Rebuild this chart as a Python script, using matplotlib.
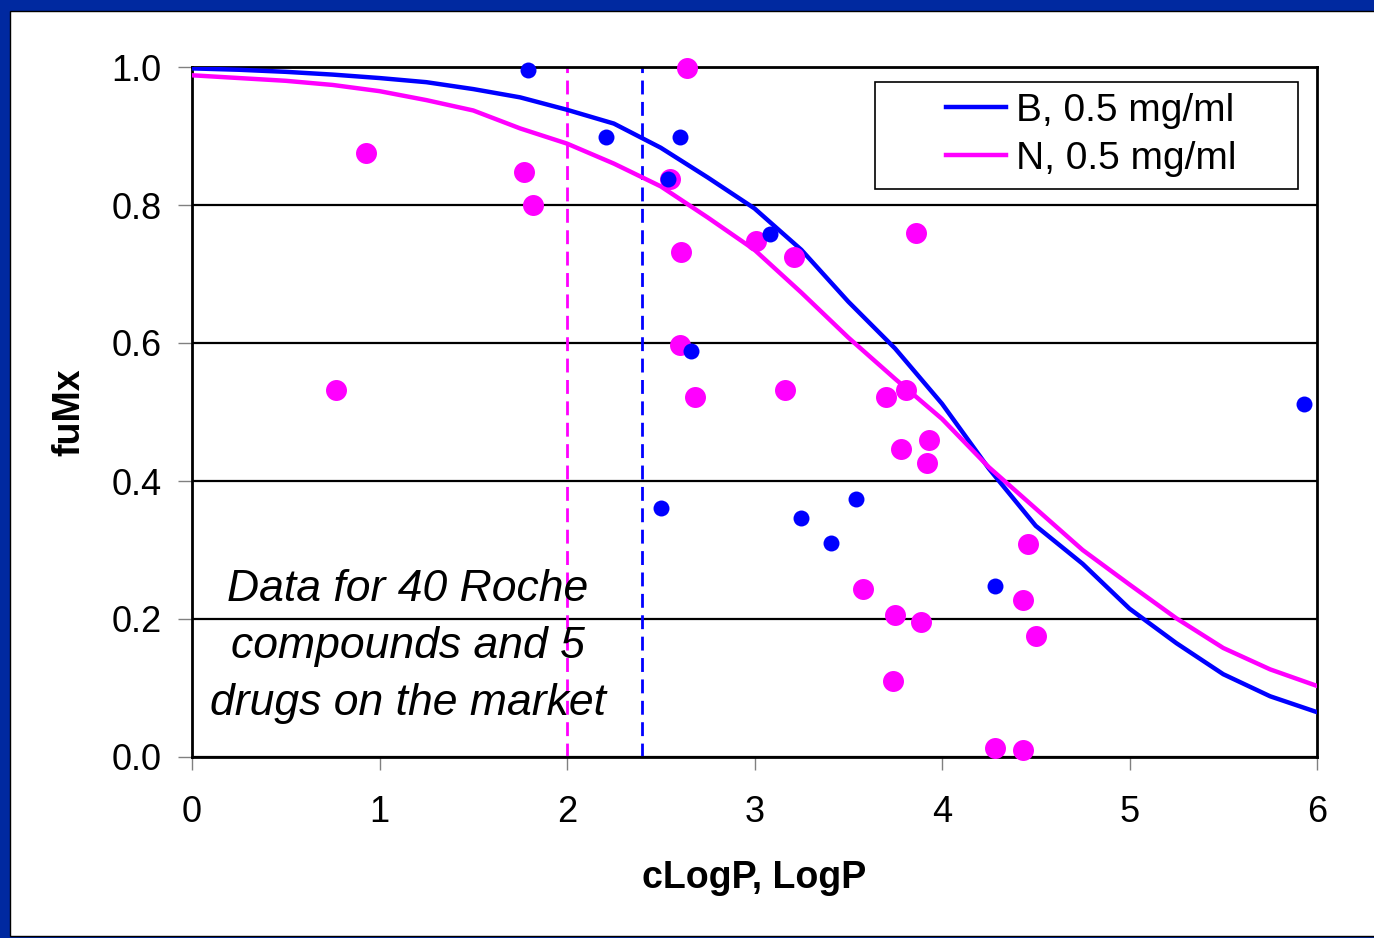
import numpy as np
import matplotlib.pyplot as plt
from matplotlib.patches import Rectangle

plt.rcParams['font.family'] = ['Liberation Sans', 'DejaVu Sans']

# model curves
curve_x = [0, 0.25, 0.5, 0.75, 1.0, 1.25, 1.5, 1.75, 2.0, 2.25, 2.5, 2.75, 3.0,
           3.25, 3.5, 3.75, 4.0, 4.25, 4.5, 4.75, 5.0, 5.25, 5.5, 5.75, 6.0]
curve_b = [0.998, 0.996, 0.993, 0.989, 0.984, 0.978, 0.968, 0.956, 0.938, 0.918, 0.883, 0.840, 0.795,
           0.735, 0.660, 0.592, 0.512, 0.418, 0.335, 0.280, 0.215, 0.165, 0.120, 0.088, 0.065]
curve_n = [0.988, 0.984, 0.980, 0.974, 0.965, 0.952, 0.937, 0.911, 0.889, 0.860, 0.827, 0.782, 0.735,
           0.673, 0.608, 0.548, 0.490, 0.420, 0.360, 0.300, 0.250, 0.201, 0.158, 0.127, 0.103]

# measured compounds
blue_x = [1.79, 2.21, 2.60, 2.54, 3.08, 2.66, 2.50, 3.25, 3.41, 3.54, 4.28, 5.93]
blue_y = [0.995, 0.899, 0.899, 0.838, 0.758, 0.588, 0.361, 0.347, 0.310, 0.374, 0.248, 0.512]

magenta_x = [0.77, 0.93, 1.77, 1.82, 2.64, 2.55, 2.61, 2.60, 2.68, 3.01, 3.21, 3.16, 3.86, 3.70,
             3.81, 3.78, 3.93, 3.92, 3.58, 3.75, 3.89, 3.74, 4.46, 4.43, 4.50, 4.28, 4.43]
magenta_y = [0.532, 0.875, 0.848, 0.800, 0.999, 0.838, 0.732, 0.597, 0.522, 0.748, 0.725, 0.532, 0.759, 0.522,
             0.532, 0.446, 0.459, 0.426, 0.243, 0.206, 0.196, 0.110, 0.309, 0.228, 0.175, 0.013, 0.010]

cut_n = 2.0
cut_b = 2.4

W, H = 1374, 938
fig = plt.figure(figsize=(W / 100, H / 100), dpi=100, facecolor='#0029A0')
fig.patches.append(Rectangle((10 / W, 2 / H), 1.0, (936 - 11) / H, transform=fig.transFigure,
                             facecolor='white', edgecolor='black', lw=1, zorder=-10))

ax = fig.add_axes([192 / W, 1 - 757 / H, (1317 - 192) / W, (757 - 67) / H])
ax.set_facecolor('none')

ax.axvline(cut_n, color='#FF00FF', lw=2, ls=(0, (5, 2.7)), zorder=2)
ax.axvline(cut_b, color='#0000FF', lw=2, ls=(0, (5, 2.7)), zorder=2)

ax.plot(curve_x, curve_b, color='#0000FF', lw=3.2, label='B, 0.5 mg/ml', zorder=3)
ax.plot(curve_x, curve_n, color='#FF00FF', lw=3.2, label='N, 0.5 mg/ml', zorder=3)

ax.scatter(magenta_x, magenta_y, s=228, color='#FF00FF', linewidths=0, zorder=4, clip_on=False)
ax.scatter(blue_x, blue_y, s=132, color='#0000FF', linewidths=0, zorder=5, clip_on=False)

ax.set_xlim(0, 6)
ax.set_ylim(0, 1)
ax.set_xticks(range(7))
ax.set_yticks(np.arange(0, 1.01, 0.2))
ax.set_yticklabels(['%.1f' % v for v in np.arange(0, 1.01, 0.2)])
ax.yaxis.grid(True, color='black', lw=1.6, zorder=1)
ax.set_axisbelow(True)
for s in ax.spines.values():
    s.set_linewidth(2)
    s.set_color('black')

ax.tick_params(axis='y', direction='out', length=10, width=1, color='#808080', labelsize=26, pad=12)
ax.tick_params(axis='x', direction='out', length=9, width=1, color='#808080', labelsize=26, pad=18)

ax.set_xlabel('cLogP, LogP', fontsize=27, fontweight='bold', labelpad=22)
ax.set_ylabel('fuMx', fontsize=27, fontweight='bold', labelpad=17)

ax.text(1.15, 0.16, 'Data for 40 Roche\ncompounds and 5\ndrugs on the market', fontsize=32,
        style='italic', ha='center', va='center', linespacing=1.5, zorder=6)

# legend box
ax.add_patch(Rectangle(((875 - 192) / 1125, (757 - 189) / 690), 423 / 1125, 107 / 690,
                       transform=ax.transAxes, facecolor='white', edgecolor='black', lw=1.2, zorder=6))
leg = ax.legend(loc='upper left', bbox_to_anchor=((946 - 192) / 1125, (757 - 93) / 690), frameon=False,
                fontsize=28, borderpad=0, borderaxespad=0, handlelength=1.55, handletextpad=0.25,
                labelspacing=0.3)
leg.set_zorder(7)

plt.savefig('out.png', dpi=100, facecolor=fig.get_facecolor())
